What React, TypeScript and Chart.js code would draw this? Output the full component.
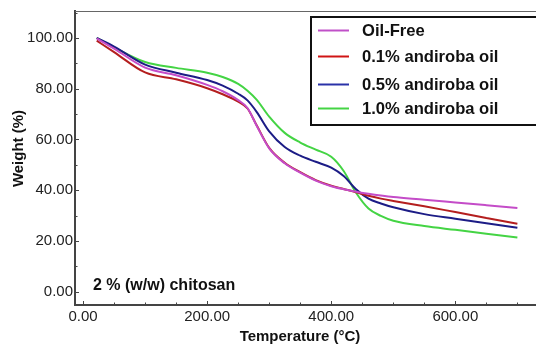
import { useEffect, useRef } from "react";
import { Chart, registerables } from "chart.js";

Chart.register(...registerables);

// Temperature (°C) sample points shared by all series
const temperatures = [22, 50, 100, 150, 200, 225, 250, 265, 280, 300, 325, 350, 375, 400, 420, 440, 460, 480, 500, 550, 600, 650, 700];

// Weight (%) series
const oilFree = [99.8, 95.8, 88.3, 85.3, 81.5, 79.0, 75.5, 72.4, 65.3, 56.5, 50.6, 46.9, 43.8, 41.6, 40.4, 39.4, 38.6, 37.9, 37.3, 36.3, 35.2, 34.1, 33.0];
const andiroba01 = [98.9, 94.4, 86.4, 83.7, 80.2, 77.8, 74.9, 72.2, 65.5, 56.7, 50.8, 47.1, 44.0, 41.8, 40.5, 39.2, 37.8, 36.7, 35.8, 33.7, 31.4, 29.1, 26.8];
const andiroba05 = [100.0, 96.6, 89.5, 86.3, 83.4, 81.2, 78.0, 75.4, 70.8, 63.2, 57.0, 53.6, 51.2, 48.9, 45.6, 40.4, 36.7, 34.8, 33.3, 30.6, 28.8, 27.0, 25.2];
const andiroba10 = [100.0, 96.3, 90.5, 88.2, 86.3, 84.6, 81.9, 79.2, 75.6, 69.0, 62.6, 58.8, 56.0, 53.2, 47.6, 39.0, 32.8, 29.9, 28.0, 25.9, 24.4, 22.9, 21.4];

const seriesLabels = ["Oil-Free", "0.1% andiroba oil", "0.5% andiroba oil", "1.0% andiroba oil"];
const seriesColors = ["#c44cc8", "#b41e1e", "#1c1c86", "#44d444"];
const legendColors = ["#c050c8", "#d01414", "#2a32a8", "#44d444"];

const xTickValues = [0, 200, 400, 600];
const yTickValues = [0, 20, 40, 60, 80, 100];
const xMinorValues = [50, 100, 150, 250, 300, 350, 450, 500, 550, 650, 700];
const yMinorValues = [10, 30, 50, 70, 90, 110];

const xTitle = "Temperature (°C)";
const yTitle = "Weight (%)";
const annotation = "2 % (w/w) chitosan";

const FONT = '"Liberation Sans", Arial, sans-serif';

const decorPlugin = {
  id: "decor",
  afterDraw(chart: any) {
    const ctx = chart.ctx;
    const area = chart.chartArea;
    const xs = chart.scales.x;
    const ys = chart.scales.y;
    ctx.save();
    // top frame line
    ctx.strokeStyle = "#666";
    ctx.lineWidth = 1;
    ctx.beginPath();
    ctx.moveTo(area.left, area.top + 0.5);
    ctx.lineTo(area.right, area.top + 0.5);
    ctx.stroke();

    // inward ticks
    ctx.strokeStyle = "#444";
    ctx.lineWidth = 1;
    ctx.beginPath();
    xTickValues.forEach((v) => {
      const px = Math.round(xs.getPixelForValue(v)) + 0.5;
      ctx.moveTo(px, area.bottom);
      ctx.lineTo(px, area.bottom - 4);
    });
    xMinorValues.forEach((v) => {
      const px = Math.round(xs.getPixelForValue(v)) + 0.5;
      ctx.moveTo(px, area.bottom);
      ctx.lineTo(px, area.bottom - 2.5);
    });
    yTickValues.forEach((v) => {
      const py = Math.round(ys.getPixelForValue(v)) + 0.5;
      ctx.moveTo(area.left, py);
      ctx.lineTo(area.left + 4, py);
    });
    yMinorValues.forEach((v) => {
      const py = Math.round(ys.getPixelForValue(v)) + 0.5;
      if (py > area.top + 2) {
        ctx.moveTo(area.left, py);
        ctx.lineTo(area.left + 2.5, py);
      }
    });
    ctx.stroke();

    // legend box
    const bx = 311, by = 17, bw = 240, bh = 108;
    ctx.fillStyle = "#fff";
    ctx.fillRect(bx, by, bw, bh);
    ctx.strokeStyle = "#111";
    ctx.lineWidth = 2;
    ctx.strokeRect(bx, by, bw, bh);
    const rows = [30.5, 56.5, 84.5, 108.5];
    ctx.font = `bold 16.6px ${FONT}`;
    ctx.textBaseline = "middle";
    ctx.textAlign = "left";
    chart.data.datasets.forEach((ds: any, i: number) => {
      const y = rows[i];
      ctx.strokeStyle = legendColors[i];
      ctx.lineWidth = 2;
      ctx.beginPath();
      ctx.moveTo(318, y);
      ctx.lineTo(349, y);
      ctx.stroke();
      ctx.fillStyle = "#111";
      ctx.fillText(ds.label, 362, y + 1);
    });

    // annotation
    ctx.font = `bold 16px ${FONT}`;
    ctx.fillStyle = "#111";
    ctx.textBaseline = "middle";
    ctx.fillText(annotation, 93, 286);

    // axis titles
    ctx.font = `bold 15px ${FONT}`;
    ctx.textAlign = "center";
    ctx.fillText(xTitle, 300, 337);
    ctx.translate(19, 148.5);
    ctx.rotate(-Math.PI / 2);
    ctx.fillText(yTitle, 0, 0);
    ctx.restore();
  },
};

export default function App() {
  const ref = useRef<HTMLCanvasElement | null>(null);
  useEffect(() => {
    if (!ref.current) return;
    const seriesValues = [oilFree, andiroba01, andiroba05, andiroba10];
    const chart = new Chart(ref.current, {
      type: "line",
      data: {
        datasets: seriesValues.map((vals, i) => ({
          label: seriesLabels[i],
          data: temperatures.map((t, j) => ({ x: t, y: vals[j] })),
          borderColor: seriesColors[i],
          backgroundColor: seriesColors[i],
          borderWidth: 2,
          pointRadius: 0,
          cubicInterpolationMode: "monotone" as const,
          fill: false,
        })),
      },
      options: {
        responsive: false,
        animation: false,
        layout: { padding: { top: 11, left: 0, right: 0, bottom: 0 } },
        plugins: {
          legend: { display: false },
          tooltip: { enabled: false },
        },
        scales: {
          x: {
            type: "linear",
            min: -13,
            max: 730,
            afterBuildTicks: (s: any) => {
              s.ticks = xTickValues.map((v) => ({ value: v }));
            },
            afterFit: (s: any) => {
              s.height = 42;
            },
            grid: { display: false, drawTicks: false },
            border: { display: true, color: "#444", width: 2 },
            ticks: {
              autoSkip: false,
              maxRotation: 0,
              padding: 3,
              color: "#222",
              font: { family: FONT, size: 15 },
              callback: (v: any) => Number(v).toFixed(2),
            },
          },
          y: {
            type: "linear",
            min: -5.2,
            max: 110.6,
            afterBuildTicks: (s: any) => {
              s.ticks = yTickValues.map((v) => ({ value: v }));
            },
            afterFit: (s: any) => {
              s.width = 75;
            },
            grid: { display: false, drawTicks: false },
            border: { display: true, color: "#444", width: 2 },
            ticks: {
              autoSkip: false,
              padding: 2,
              color: "#222",
              font: { family: FONT, size: 15 },
              callback: (v: any) => Number(v).toFixed(2),
            },
          },
        },
      },
      plugins: [decorPlugin],
    });
    return () => chart.destroy();
  }, []);
  return (
    <div style={{ position: "absolute", left: 0, top: 0, width: 536, height: 347, background: "#fff" }}>
      <canvas ref={ref} width={536} height={347} />
    </div>
  );
}
